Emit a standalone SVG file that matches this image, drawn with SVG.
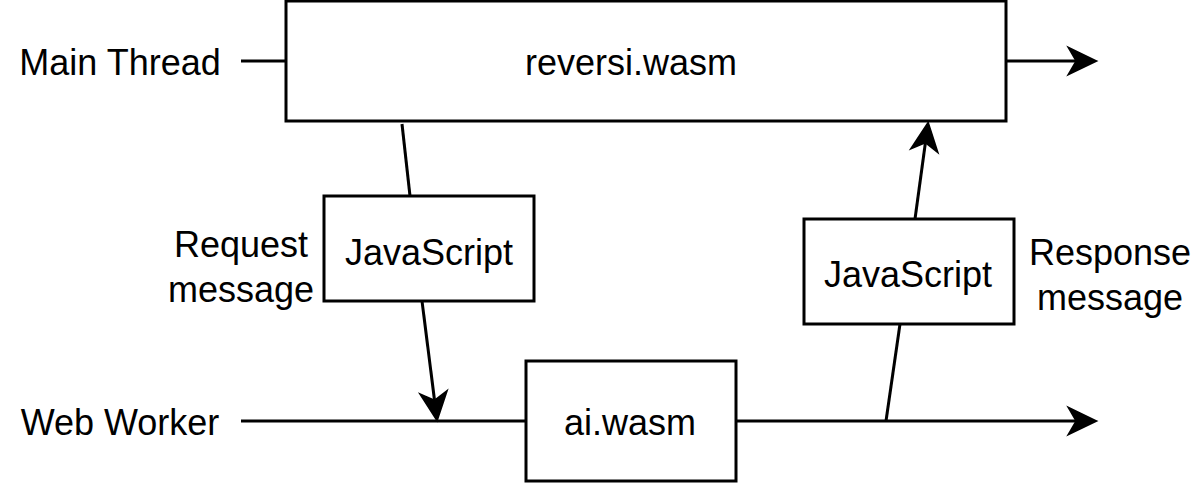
<svg xmlns="http://www.w3.org/2000/svg" width="1203" height="483" viewBox="0 0 1203 483">
<style>
.box{fill:#fff;stroke:#000;stroke-width:3}
.ln{fill:none;stroke:#000;stroke-width:3}
text{font-family:"Liberation Sans",Arial,sans-serif;font-size:36px;fill:#000;text-anchor:middle}
</style>
<defs>
<marker id="arr" markerUnits="userSpaceOnUse" viewBox="-34 -20 40 40" refX="-8" refY="0" markerWidth="40" markerHeight="40" orient="auto">
<path d="M-1,0 L-26,-12 L-19,0 L-26,12 Z" fill="#000" stroke="#000" stroke-width="3" stroke-linejoin="miter" stroke-miterlimit="10"/>
</marker>
</defs>
<rect width="1203" height="483" fill="#fff"/>
<g id="connectors">
<path class="ln" d="M241,61 H286"/>
<path class="ln" d="M1006,61 H1088" marker-end="url(#arr)"/>
<path class="ln" d="M241,421 H526"/>
<path class="ln" d="M736,421 H1088" marker-end="url(#arr)"/>
<path class="ln" d="M402,124 L410,196"/>
<path class="ln" d="M422,301 L436,412" marker-end="url(#arr)"/>
<path class="ln" d="M886,421 L900,324"/>
<path class="ln" d="M915,219 L927,131" marker-end="url(#arr)"/>
</g>
<g id="main-thread-label"><text x="120" y="75">Main Thread</text></g>
<g id="web-worker-label"><text x="120" y="435">Web Worker</text></g>
<g id="reversi"><rect class="box" x="286" y="1" width="720" height="120"/><text x="631" y="75">reversi.wasm</text></g>
<g id="js-left"><rect class="box" x="324" y="196" width="210" height="105"/><text x="429" y="265">JavaScript</text></g>
<g id="js-right"><rect class="box" x="804" y="219" width="210" height="105"/><text x="908" y="287">JavaScript</text></g>
<g id="ai"><rect class="box" x="526" y="361" width="210" height="120"/><text x="630" y="435">ai.wasm</text></g>
<g id="request-label"><text x="241" y="257">Request</text><text x="241" y="302">message</text></g>
<g id="response-label"><text x="1110" y="265">Response</text><text x="1110" y="310">message</text></g>
</svg>
